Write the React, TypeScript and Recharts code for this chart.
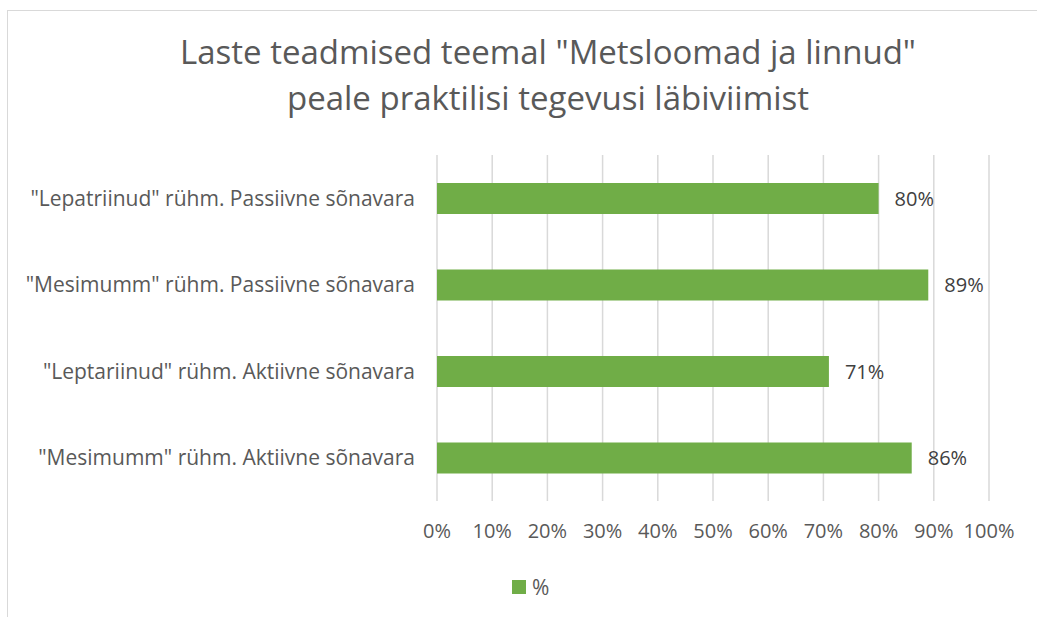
import { Bar, BarChart, CartesianGrid, LabelList, XAxis, YAxis } from "recharts"

const categories = [
  '"Lepatriinud" rühm. Passiivne sõnavara',
  '"Mesimumm" rühm. Passiivne sõnavara',
  '"Leptariinud" rühm. Aktiivne sõnavara',
  '"Mesimumm" rühm. Aktiivne sõnavara',
]
const percentValues = [0.8, 0.89, 0.71, 0.86]
const xTicks = [0, 0.1, 0.2, 0.3, 0.4, 0.5, 0.6, 0.7, 0.8, 0.9, 1]
const seriesName = "%"
const titleLines = ['Laste teadmised teemal "Metsloomad ja linnud"', "peale praktilisi tegevusi läbiviimist"]

const FONT = "'Open Sans', Lato, sans-serif"
const TEXT = "#595959"
const GREEN = "#70ad47"

const data = categories.map((name, i) => ({ name, value: percentValues[i] }))
const pct = (v: number) => `${Math.round(v * 100)}%`

export default function App() {
  return (
    <div style={{ position: "fixed", left: 0, top: 0, width: 1037, height: 617, background: "#fff", overflow: "hidden" }}>
      <div
        style={{
          position: "absolute",
          left: 7,
          top: 10,
          width: 1100,
          height: 700,
          border: "1px solid #d9d9d9",
        }}
      />
      <div
        style={{
          position: "absolute",
          left: 0,
          top: 29,
          width: 1096,
          textAlign: "center",
          fontFamily: FONT,
          fontSize: 33,
          lineHeight: "46px",
          color: TEXT,
        }}
      >
        {titleLines.map((t) => (
          <div key={t}>{t}</div>
        ))}
      </div>
      <div style={{ position: "absolute", left: 0, top: 0 }}>
        <BarChart
          width={1037}
          height={617}
          data={data}
          layout="vertical"
          margin={{ top: 155, right: 48, bottom: 76, left: 0 }}
        >
          <CartesianGrid horizontal={false} stroke="#d9d9d9" strokeWidth={1.5} />
          <XAxis
            type="number"
            domain={[0, 1]}
            ticks={xTicks}
            tickFormatter={pct}
            axisLine={false}
            tickLine={false}
            tickSize={0}
            tickMargin={23}
            height={40}
            tick={{ fill: TEXT, fontSize: 20, fontFamily: FONT }}
          />
          <YAxis
            type="category"
            dataKey="name"
            width={437}
            axisLine={false}
            tickLine={false}
            tickSize={0}
            tickMargin={22}
            tick={{ fill: TEXT, fontSize: 21, fontFamily: FONT }}
          />
          <Bar dataKey="value" name={seriesName} fill={GREEN} barSize={31} isAnimationActive={false}>
            <LabelList
              dataKey="value"
              position="right"
              offset={16}
              formatter={(v: any) => pct(Number(v))}
              style={{ fill: "#404040", fontSize: 20, fontFamily: FONT }}
            />
          </Bar>
        </BarChart>
      </div>
      <div
        style={{
          position: "absolute",
          left: 512,
          top: 573,
          display: "flex",
          alignItems: "center",
          fontFamily: FONT,
          fontSize: 21,
          color: TEXT,
        }}
      >
        <span style={{ width: 14, height: 14, background: GREEN, display: "inline-block", marginRight: 6 }} />
        <span>{seriesName}</span>
      </div>
    </div>
  )
}
